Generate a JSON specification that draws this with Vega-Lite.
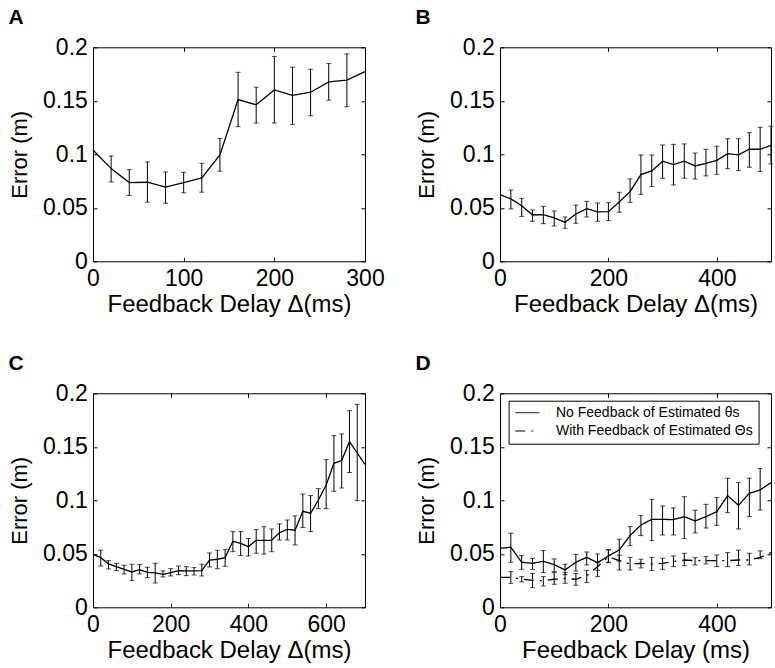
{
  "$schema": "https://vega.github.io/schema/vega-lite/v6.json",
  "padding": {"left": 7, "top": 6.3, "right": 5, "bottom": 5},
  "background": "white",
  "bounds": "flush",
  "columns": 2,
  "spacing": {"row": 132, "column": 135},
  "datasets": {
    "a": [
      {"delay": 0, "error": 0.104},
      {"delay": 20, "error": 0.0866, "lo": 0.0742, "hi": 0.0984},
      {"delay": 40, "error": 0.0736, "lo": 0.0615, "hi": 0.0857},
      {"delay": 60, "error": 0.0739, "lo": 0.0553, "hi": 0.0929},
      {"delay": 80, "error": 0.0693, "lo": 0.0543, "hi": 0.0835},
      {"delay": 100, "error": 0.0736, "lo": 0.064, "hi": 0.0832},
      {"delay": 120, "error": 0.078, "lo": 0.0646, "hi": 0.0916},
      {"delay": 140, "error": 0.0994, "lo": 0.0842, "hi": 0.1149},
      {"delay": 160, "error": 0.1512, "lo": 0.1258, "hi": 0.1767},
      {"delay": 180, "error": 0.1463, "lo": 0.1292, "hi": 0.1627},
      {"delay": 200, "error": 0.1602, "lo": 0.1292, "hi": 0.1913},
      {"delay": 220, "error": 0.155, "lo": 0.128, "hi": 0.1814},
      {"delay": 240, "error": 0.158, "lo": 0.136, "hi": 0.1795},
      {"delay": 260, "error": 0.1677, "lo": 0.1506, "hi": 0.1848},
      {"delay": 280, "error": 0.1693, "lo": 0.1444, "hi": 0.1938},
      {"delay": 300, "error": 0.1773}
    ],
    "b": [
      {"delay": 0, "error": 0.0623},
      {"delay": 20, "error": 0.0583, "lo": 0.0489, "hi": 0.0667},
      {"delay": 40, "error": 0.052, "lo": 0.042, "hi": 0.0586},
      {"delay": 60, "error": 0.0433, "lo": 0.0374, "hi": 0.048},
      {"delay": 80, "error": 0.0436, "lo": 0.0352, "hi": 0.0514},
      {"delay": 100, "error": 0.0405, "lo": 0.033, "hi": 0.047},
      {"delay": 120, "error": 0.0364, "lo": 0.0308, "hi": 0.0414},
      {"delay": 140, "error": 0.0442, "lo": 0.0355, "hi": 0.0526},
      {"delay": 160, "error": 0.0492, "lo": 0.0414, "hi": 0.0561},
      {"delay": 180, "error": 0.0461, "lo": 0.0374, "hi": 0.0545},
      {"delay": 200, "error": 0.0464, "lo": 0.038, "hi": 0.0548},
      {"delay": 220, "error": 0.0555, "lo": 0.0458, "hi": 0.0645},
      {"delay": 240, "error": 0.0651, "lo": 0.0551, "hi": 0.077},
      {"delay": 260, "error": 0.081, "lo": 0.0626, "hi": 0.0994},
      {"delay": 280, "error": 0.0844, "lo": 0.0698, "hi": 0.0994},
      {"delay": 300, "error": 0.0935, "lo": 0.0776, "hi": 0.1087},
      {"delay": 320, "error": 0.0903, "lo": 0.0713, "hi": 0.1093},
      {"delay": 340, "error": 0.0935, "lo": 0.0776, "hi": 0.1097},
      {"delay": 360, "error": 0.0891, "lo": 0.0769, "hi": 0.1012},
      {"delay": 380, "error": 0.0916, "lo": 0.0798, "hi": 0.1047},
      {"delay": 400, "error": 0.0944, "lo": 0.0813, "hi": 0.1075},
      {"delay": 420, "error": 0.1006, "lo": 0.0866, "hi": 0.1146},
      {"delay": 440, "error": 0.0994, "lo": 0.0847, "hi": 0.1146},
      {"delay": 460, "error": 0.1047, "lo": 0.0879, "hi": 0.1202},
      {"delay": 480, "error": 0.1047, "lo": 0.0838, "hi": 0.1252},
      {"delay": 500, "error": 0.1084, "lo": 0.091, "hi": 0.1262}
    ],
    "c": [
      {"delay": 0, "error": 0.0495},
      {"delay": 20, "error": 0.0464, "lo": 0.0386, "hi": 0.0533},
      {"delay": 40, "error": 0.0405, "lo": 0.0358, "hi": 0.0436},
      {"delay": 60, "error": 0.038, "lo": 0.0343, "hi": 0.0411},
      {"delay": 80, "error": 0.0355, "lo": 0.0312, "hi": 0.0393},
      {"delay": 100, "error": 0.033, "lo": 0.0252, "hi": 0.0402},
      {"delay": 120, "error": 0.0352, "lo": 0.0312, "hi": 0.0399},
      {"delay": 140, "error": 0.0327, "lo": 0.0277, "hi": 0.0374},
      {"delay": 160, "error": 0.0321, "lo": 0.0227, "hi": 0.0411},
      {"delay": 180, "error": 0.0308, "lo": 0.0283, "hi": 0.034},
      {"delay": 200, "error": 0.0324, "lo": 0.0293, "hi": 0.0361},
      {"delay": 220, "error": 0.0343, "lo": 0.0305, "hi": 0.0386},
      {"delay": 240, "error": 0.034, "lo": 0.0296, "hi": 0.038},
      {"delay": 260, "error": 0.034, "lo": 0.0302, "hi": 0.0371},
      {"delay": 280, "error": 0.0343, "lo": 0.0293, "hi": 0.0402},
      {"delay": 300, "error": 0.0442, "lo": 0.0377, "hi": 0.0508},
      {"delay": 320, "error": 0.0449, "lo": 0.0361, "hi": 0.0533},
      {"delay": 340, "error": 0.0464, "lo": 0.0383, "hi": 0.0542},
      {"delay": 360, "error": 0.0617, "lo": 0.052, "hi": 0.0707},
      {"delay": 380, "error": 0.0598, "lo": 0.0483, "hi": 0.0707},
      {"delay": 400, "error": 0.0567, "lo": 0.048, "hi": 0.0642},
      {"delay": 420, "error": 0.0626, "lo": 0.0505, "hi": 0.0726},
      {"delay": 440, "error": 0.0626, "lo": 0.0498, "hi": 0.0754},
      {"delay": 460, "error": 0.0626, "lo": 0.052, "hi": 0.0732},
      {"delay": 480, "error": 0.0698, "lo": 0.0629, "hi": 0.0779},
      {"delay": 500, "error": 0.0729, "lo": 0.0629, "hi": 0.0816},
      {"delay": 520, "error": 0.072, "lo": 0.0583, "hi": 0.0854},
      {"delay": 540, "error": 0.0897, "lo": 0.0745, "hi": 0.1059},
      {"delay": 560, "error": 0.0879, "lo": 0.0707, "hi": 0.1044},
      {"delay": 580, "error": 0.1003, "lo": 0.0922, "hi": 0.1109},
      {"delay": 600, "error": 0.1143, "lo": 0.0922, "hi": 0.138},
      {"delay": 620, "error": 0.1346, "lo": 0.1084, "hi": 0.1604},
      {"delay": 640, "error": 0.1371, "lo": 0.1115, "hi": 0.162},
      {"delay": 660, "error": 0.1548, "lo": 0.1259, "hi": 0.1838},
      {"delay": 680, "error": 0.1442, "lo": 0.0997, "hi": 0.1897},
      {"delay": 700, "error": 0.1336}
    ],
    "d": [
      {"series": "No Feedback of Estimated θs", "delay": 0, "error": 0.0551},
      {"series": "No Feedback of Estimated θs", "delay": 20, "error": 0.0561, "lo": 0.0421, "hi": 0.0692},
      {"series": "No Feedback of Estimated θs", "delay": 40, "error": 0.0421, "lo": 0.0355, "hi": 0.0483},
      {"series": "No Feedback of Estimated θs", "delay": 60, "error": 0.0411, "lo": 0.0355, "hi": 0.0458},
      {"series": "No Feedback of Estimated θs", "delay": 80, "error": 0.043, "lo": 0.0324, "hi": 0.053},
      {"series": "No Feedback of Estimated θs", "delay": 100, "error": 0.0399, "lo": 0.0333, "hi": 0.0452},
      {"series": "No Feedback of Estimated θs", "delay": 120, "error": 0.0349, "lo": 0.0305, "hi": 0.0402},
      {"series": "No Feedback of Estimated θs", "delay": 140, "error": 0.0421, "lo": 0.034, "hi": 0.0495},
      {"series": "No Feedback of Estimated θs", "delay": 160, "error": 0.0467, "lo": 0.0396, "hi": 0.0517},
      {"series": "No Feedback of Estimated θs", "delay": 180, "error": 0.0417, "lo": 0.0346, "hi": 0.0498},
      {"series": "No Feedback of Estimated θs", "delay": 200, "error": 0.048, "lo": 0.0421, "hi": 0.0539},
      {"series": "No Feedback of Estimated θs", "delay": 220, "error": 0.0536, "lo": 0.0433, "hi": 0.0636},
      {"series": "No Feedback of Estimated θs", "delay": 240, "error": 0.067, "lo": 0.0576, "hi": 0.0754},
      {"series": "No Feedback of Estimated θs", "delay": 260, "error": 0.0769, "lo": 0.067, "hi": 0.0857},
      {"series": "No Feedback of Estimated θs", "delay": 280, "error": 0.0822, "lo": 0.0623, "hi": 0.1009},
      {"series": "No Feedback of Estimated θs", "delay": 300, "error": 0.0822, "lo": 0.0676, "hi": 0.0947},
      {"series": "No Feedback of Estimated θs", "delay": 320, "error": 0.0819, "lo": 0.0676, "hi": 0.0928},
      {"series": "No Feedback of Estimated θs", "delay": 340, "error": 0.0847, "lo": 0.0642, "hi": 0.1034},
      {"series": "No Feedback of Estimated θs", "delay": 360, "error": 0.0807, "lo": 0.0695, "hi": 0.0907},
      {"series": "No Feedback of Estimated θs", "delay": 380, "error": 0.0847, "lo": 0.0741, "hi": 0.0963},
      {"series": "No Feedback of Estimated θs", "delay": 400, "error": 0.0894, "lo": 0.0766, "hi": 0.1025},
      {"series": "No Feedback of Estimated θs", "delay": 420, "error": 0.1044, "lo": 0.0885, "hi": 0.1206},
      {"series": "No Feedback of Estimated θs", "delay": 440, "error": 0.0953, "lo": 0.0732, "hi": 0.1165},
      {"series": "No Feedback of Estimated θs", "delay": 460, "error": 0.1065, "lo": 0.0847, "hi": 0.1206},
      {"series": "No Feedback of Estimated θs", "delay": 480, "error": 0.1097, "lo": 0.091, "hi": 0.1296},
      {"series": "No Feedback of Estimated θs", "delay": 500, "error": 0.1165},
      {"series": "With Feedback of Estimated Θs", "delay": 0, "error": 0.028},
      {"series": "With Feedback of Estimated Θs", "delay": 20, "error": 0.028, "lo": 0.0224, "hi": 0.0333},
      {"series": "With Feedback of Estimated Θs", "delay": 40, "error": 0.0262, "lo": 0.0237, "hi": 0.0287},
      {"series": "With Feedback of Estimated Θs", "delay": 60, "error": 0.0252, "lo": 0.0184, "hi": 0.0315},
      {"series": "With Feedback of Estimated Θs", "delay": 80, "error": 0.0249, "lo": 0.0199, "hi": 0.0287},
      {"series": "With Feedback of Estimated Θs", "delay": 100, "error": 0.0262, "lo": 0.0215, "hi": 0.0324},
      {"series": "With Feedback of Estimated Θs", "delay": 120, "error": 0.0268, "lo": 0.0224, "hi": 0.0324},
      {"series": "With Feedback of Estimated Θs", "delay": 140, "error": 0.0262, "lo": 0.0206, "hi": 0.0315},
      {"series": "With Feedback of Estimated Θs", "delay": 160, "error": 0.0296, "lo": 0.0231, "hi": 0.0346},
      {"series": "With Feedback of Estimated Θs", "delay": 180, "error": 0.038, "lo": 0.0287, "hi": 0.0421},
      {"series": "With Feedback of Estimated Θs", "delay": 200, "error": 0.0474, "lo": 0.0417, "hi": 0.0536},
      {"series": "With Feedback of Estimated Θs", "delay": 220, "error": 0.0436, "lo": 0.0349, "hi": 0.0486},
      {"series": "With Feedback of Estimated Θs", "delay": 240, "error": 0.0405, "lo": 0.0349, "hi": 0.0467},
      {"series": "With Feedback of Estimated Θs", "delay": 260, "error": 0.0411, "lo": 0.0368, "hi": 0.0449},
      {"series": "With Feedback of Estimated Θs", "delay": 280, "error": 0.0405, "lo": 0.0343, "hi": 0.0467},
      {"series": "With Feedback of Estimated Θs", "delay": 300, "error": 0.0411, "lo": 0.0355, "hi": 0.0458},
      {"series": "With Feedback of Estimated Θs", "delay": 320, "error": 0.0427, "lo": 0.038, "hi": 0.048},
      {"series": "With Feedback of Estimated Θs", "delay": 340, "error": 0.0442, "lo": 0.0389, "hi": 0.0505},
      {"series": "With Feedback of Estimated Θs", "delay": 360, "error": 0.0436, "lo": 0.0396, "hi": 0.0464},
      {"series": "With Feedback of Estimated Θs", "delay": 380, "error": 0.0436, "lo": 0.0405, "hi": 0.0474},
      {"series": "With Feedback of Estimated Θs", "delay": 400, "error": 0.0436, "lo": 0.038, "hi": 0.0489},
      {"series": "With Feedback of Estimated Θs", "delay": 420, "error": 0.0436, "lo": 0.038, "hi": 0.0511},
      {"series": "With Feedback of Estimated Θs", "delay": 440, "error": 0.0442, "lo": 0.0389, "hi": 0.0533},
      {"series": "With Feedback of Estimated Θs", "delay": 460, "error": 0.0442, "lo": 0.0396, "hi": 0.0505},
      {"series": "With Feedback of Estimated Θs", "delay": 480, "error": 0.0467, "lo": 0.0455, "hi": 0.0527},
      {"series": "With Feedback of Estimated Θs", "delay": 500, "error": 0.0511}
    ]
  },
  "concat": [
    {
      "width": 272, "height": 214,
      "title": {"text": "A"},
      "data": {"name": "a"},
      "layer": [
        {"mark": {"type": "rule", "color": "black", "strokeWidth": 1},
         "encoding": {
           "x": {"field": "delay", "type": "quantitative", "scale": {"domain": [0, 300], "nice": false}, "axis": {"orient": "bottom", "values": [0, 100, 200, 300], "title": "Feedback Delay Δ(ms)"}},
           "y": {"field": "lo", "type": "quantitative", "scale": {"domain": [0, 0.2], "nice": false}, "axis": {"orient": "left", "values": [0, 0.05, 0.1, 0.15, 0.2], "format": "~g", "title": "Error (m)"}},
           "y2": {"field": "hi"}}},
        {"mark": {"type": "tick", "orient": "horizontal", "size": 5, "thickness": 1, "color": "black"},
         "encoding": {"x": {"field": "delay", "type": "quantitative", "axis": null}, "y": {"field": "lo", "type": "quantitative", "axis": null}}},
        {"mark": {"type": "tick", "orient": "horizontal", "size": 5, "thickness": 1, "color": "black"},
         "encoding": {"x": {"field": "delay", "type": "quantitative", "axis": null}, "y": {"field": "hi", "type": "quantitative", "axis": null}}},
        {"mark": {"type": "line", "color": "black", "strokeWidth": 1.3},
         "encoding": {
           "x": {"field": "delay", "type": "quantitative", "axis": {"orient": "top", "values": [0, 100, 200, 300], "labels": false, "title": null}},
           "y": {"field": "error", "type": "quantitative", "axis": {"orient": "right", "values": [0, 0.05, 0.1, 0.15, 0.2], "labels": false, "title": null}}}}
      ]
    },
    {
      "width": 271, "height": 214,
      "title": {"text": "B"},
      "data": {"name": "b"},
      "layer": [
        {"mark": {"type": "rule", "color": "black", "strokeWidth": 1},
         "encoding": {
           "x": {"field": "delay", "type": "quantitative", "scale": {"domain": [0, 500], "nice": false}, "axis": {"orient": "bottom", "values": [0, 200, 400], "title": "Feedback Delay Δ(ms)"}},
           "y": {"field": "lo", "type": "quantitative", "scale": {"domain": [0, 0.2], "nice": false}, "axis": {"orient": "left", "values": [0, 0.05, 0.1, 0.15, 0.2], "format": "~g", "title": "Error (m)"}},
           "y2": {"field": "hi"}}},
        {"mark": {"type": "tick", "orient": "horizontal", "size": 5, "thickness": 1, "color": "black"},
         "encoding": {"x": {"field": "delay", "type": "quantitative", "axis": null}, "y": {"field": "lo", "type": "quantitative", "axis": null}}},
        {"mark": {"type": "tick", "orient": "horizontal", "size": 5, "thickness": 1, "color": "black"},
         "encoding": {"x": {"field": "delay", "type": "quantitative", "axis": null}, "y": {"field": "hi", "type": "quantitative", "axis": null}}},
        {"mark": {"type": "line", "color": "black", "strokeWidth": 1.3},
         "encoding": {
           "x": {"field": "delay", "type": "quantitative", "axis": {"orient": "top", "values": [0, 200, 400], "labels": false, "title": null}},
           "y": {"field": "error", "type": "quantitative", "axis": {"orient": "right", "values": [0, 0.05, 0.1, 0.15, 0.2], "labels": false, "title": null}}}}
      ]
    },
    {
      "width": 272, "height": 214,
      "title": {"text": "C"},
      "data": {"name": "c"},
      "layer": [
        {"mark": {"type": "rule", "color": "black", "strokeWidth": 1},
         "encoding": {
           "x": {"field": "delay", "type": "quantitative", "scale": {"domain": [0, 700], "nice": false}, "axis": {"orient": "bottom", "values": [0, 200, 400, 600], "title": "Feedback Delay Δ(ms)"}},
           "y": {"field": "lo", "type": "quantitative", "scale": {"domain": [0, 0.2], "nice": false}, "axis": {"orient": "left", "values": [0, 0.05, 0.1, 0.15, 0.2], "format": "~g", "title": "Error (m)"}},
           "y2": {"field": "hi"}}},
        {"mark": {"type": "tick", "orient": "horizontal", "size": 5, "thickness": 1, "color": "black"},
         "encoding": {"x": {"field": "delay", "type": "quantitative", "axis": null}, "y": {"field": "lo", "type": "quantitative", "axis": null}}},
        {"mark": {"type": "tick", "orient": "horizontal", "size": 5, "thickness": 1, "color": "black"},
         "encoding": {"x": {"field": "delay", "type": "quantitative", "axis": null}, "y": {"field": "hi", "type": "quantitative", "axis": null}}},
        {"mark": {"type": "line", "color": "black", "strokeWidth": 1.3},
         "encoding": {
           "x": {"field": "delay", "type": "quantitative", "axis": {"orient": "top", "values": [0, 200, 400, 600], "labels": false, "title": null}},
           "y": {"field": "error", "type": "quantitative", "axis": {"orient": "right", "values": [0, 0.05, 0.1, 0.15, 0.2], "labels": false, "title": null}}}}
      ]
    },
    {
      "width": 271, "height": 214,
      "title": {"text": "D"},
      "data": {"name": "d"},
      "layer": [
        {"mark": {"type": "rule", "color": "black", "strokeWidth": 1},
         "encoding": {
           "x": {"field": "delay", "type": "quantitative", "scale": {"domain": [0, 500], "nice": false}, "axis": {"orient": "bottom", "values": [0, 200, 400], "title": "Feedback Delay (ms)"}},
           "y": {"field": "lo", "type": "quantitative", "scale": {"domain": [0, 0.2], "nice": false}, "axis": {"orient": "left", "values": [0, 0.05, 0.1, 0.15, 0.2], "format": "~g", "title": "Error (m)"}},
           "y2": {"field": "hi"}}},
        {"mark": {"type": "tick", "orient": "horizontal", "size": 5, "thickness": 1, "color": "black"},
         "encoding": {"x": {"field": "delay", "type": "quantitative", "axis": null}, "y": {"field": "lo", "type": "quantitative", "axis": null}}},
        {"mark": {"type": "tick", "orient": "horizontal", "size": 5, "thickness": 1, "color": "black"},
         "encoding": {"x": {"field": "delay", "type": "quantitative", "axis": null}, "y": {"field": "hi", "type": "quantitative", "axis": null}}},
        {"mark": {"type": "line", "color": "black", "strokeWidth": 1.3},
         "encoding": {
           "x": {"field": "delay", "type": "quantitative", "axis": {"orient": "top", "values": [0, 200, 400], "labels": false, "title": null}},
           "y": {"field": "error", "type": "quantitative", "axis": {"orient": "right", "values": [0, 0.05, 0.1, 0.15, 0.2], "labels": false, "title": null}},
           "strokeDash": {"field": "series", "type": "nominal",
             "scale": {"domain": ["No Feedback of Estimated θs", "With Feedback of Estimated Θs"], "range": [[1, 0], [10, 6, 2, 6]]},
             "legend": {"title": null, "orient": "none", "legendX": 8.6, "legendY": 7.4, "strokeColor": "black", "fillColor": "white", "padding": 5, "symbolType": "M-2,0H2", "symbolSize": 144, "symbolOffset": 6.7, "symbolStrokeWidth": 1, "symbolStrokeColor": "black", "labelFontSize": 14, "labelOffset": 21.7, "labelLimit": 0, "rowPadding": 4.3, "labelColor": "black"}}}}
      ]
    }
  ],
  "resolve": {"scale": {"strokeDash": "independent"}, "legend": {"strokeDash": "independent"}},
  "config": {
    "font": "Liberation Sans",
    "view": {"stroke": "black", "strokeWidth": 1},
    "axis": {"grid": false, "domain": false, "tickColor": "black", "tickSize": -4, "tickWidth": 1, "labelFontSize": 23, "labelColor": "black", "titleFontSize": 24, "titleFontWeight": "normal", "titleColor": "black", "labelFlush": false, "labelOverlap": false},
    "axisBottom": {"labelPadding": 10.5, "titleY": 50, "titleBaseline": "alphabetic"},
    "axisLeft": {"labelPadding": 9.7, "titleX": -66.7, "titleBaseline": "alphabetic", "titleFontSize": 22},
    "title": {"fontSize": 21, "fontWeight": "bold", "anchor": "start", "frame": "group", "dx": -84.4, "offset": 8, "baseline": "bottom", "color": "black"}
  }
}
